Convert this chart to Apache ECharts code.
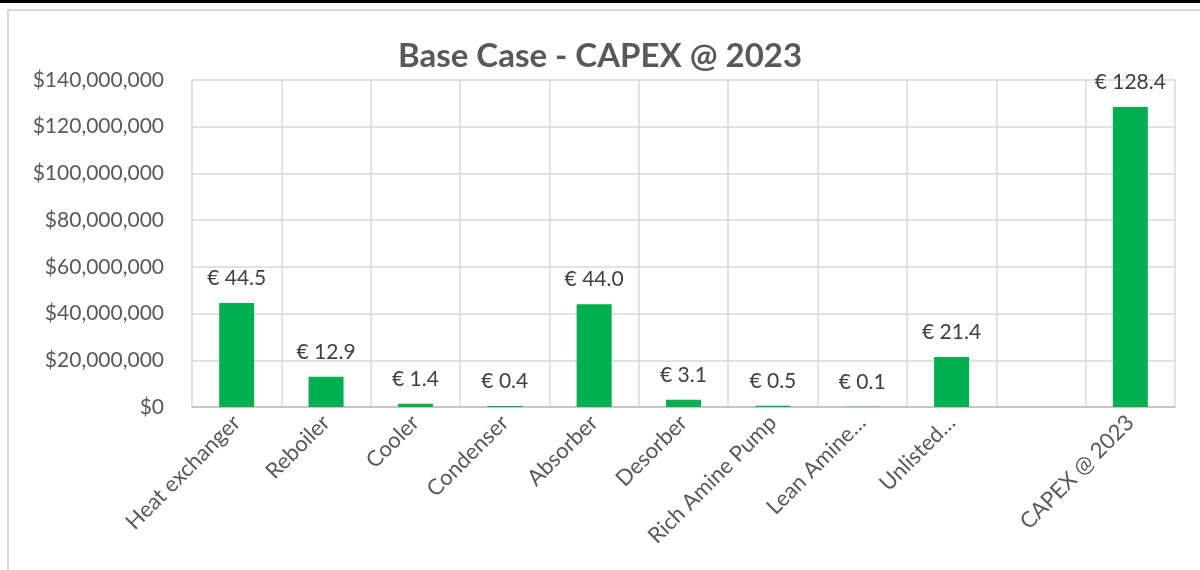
<!DOCTYPE html>
<html>
<head>
<meta charset="utf-8">
<script src="https://cdn.jsdelivr.net/npm/echarts@6/dist/echarts.min.js"></script>
<style>
  html, body { margin: 0; padding: 0; background: #ffffff; }
  #chart { width: 1200px; height: 570px; }
</style>
</head>
<body>
<div id="chart"></div>
<script>
// Equipment items and cost in EUR (millions); blank slot separates the total
const categories = ['Heat exchanger', 'Reboiler', 'Cooler', 'Condenser', 'Absorber', 'Desorber',
  'Rich Amine Pump', 'Lean Amine…', 'Unlisted…', '', 'CAPEX @ 2023'];
const costMillions = [44.5, 12.9, 1.4, 0.4, 44.0, 3.1, 0.5, 0.1, 21.4, null, 128.4];
const yTicks = [0, 20000000, 40000000, 60000000, 80000000, 100000000, 120000000, 140000000];

const FONT = 'Lato, "Noto Sans", sans-serif';
const barValues = costMillions.map(v => (v === null ? null : v * 1e6));

const chart = echarts.init(document.getElementById('chart'), null, { renderer: 'canvas' });

chart.setOption({
  backgroundColor: '#ffffff',
  animation: false,
  title: {
    text: 'Base Case - CAPEX @ 2023',
    left: 'center',
    top: 35,
    textStyle: { fontFamily: FONT, fontSize: 33, fontWeight: 'bold', color: '#595959' }
  },
  graphic: [
    { type: 'rect', shape: { x: 0, y: 0, width: 1200, height: 3 }, style: { fill: '#000000' } },
    { type: 'polyline', shape: { points: [[8, 572], [8, 10], [1202, 10]] },
      style: { stroke: '#d9d9d9', lineWidth: 2, fill: null } }
  ],
  grid: { left: 192, right: 25, top: 80, bottom: 163, containLabel: false },
  xAxis: {
    type: 'category',
    data: categories,
    axisLine: { show: true, lineStyle: { color: '#bfbfbf', width: 1.5 } },
    axisTick: { show: false },
    splitLine: { show: true, lineStyle: { color: '#d9d9d9', width: 1.5 } },
    axisLabel: {
      interval: 0, rotate: 45, margin: 12,
      fontFamily: FONT, fontSize: 22, color: '#595959'
    }
  },
  yAxis: {
    type: 'value',
    min: yTicks[0],
    max: yTicks[yTicks.length - 1],
    interval: yTicks[1] - yTicks[0],
    axisLine: { show: false },
    axisTick: { show: false },
    splitLine: { show: true, lineStyle: { color: '#d9d9d9', width: 1.5 } },
    axisLabel: {
      margin: 28,
      fontFamily: FONT, fontSize: 21, color: '#595959',
      formatter: v => '$' + v.toLocaleString('en-US')
    }
  },
  series: [{
    type: 'bar',
    data: barValues,
    barWidth: 35,
    itemStyle: { color: '#00b050' },
    label: {
      show: true,
      position: 'top',
      distance: 14,
      fontFamily: FONT, fontSize: 21, color: '#404040',
      formatter: p => '€ ' + (p.value / 1e6).toFixed(1)
    }
  }]
});
</script>
</body>
</html>
